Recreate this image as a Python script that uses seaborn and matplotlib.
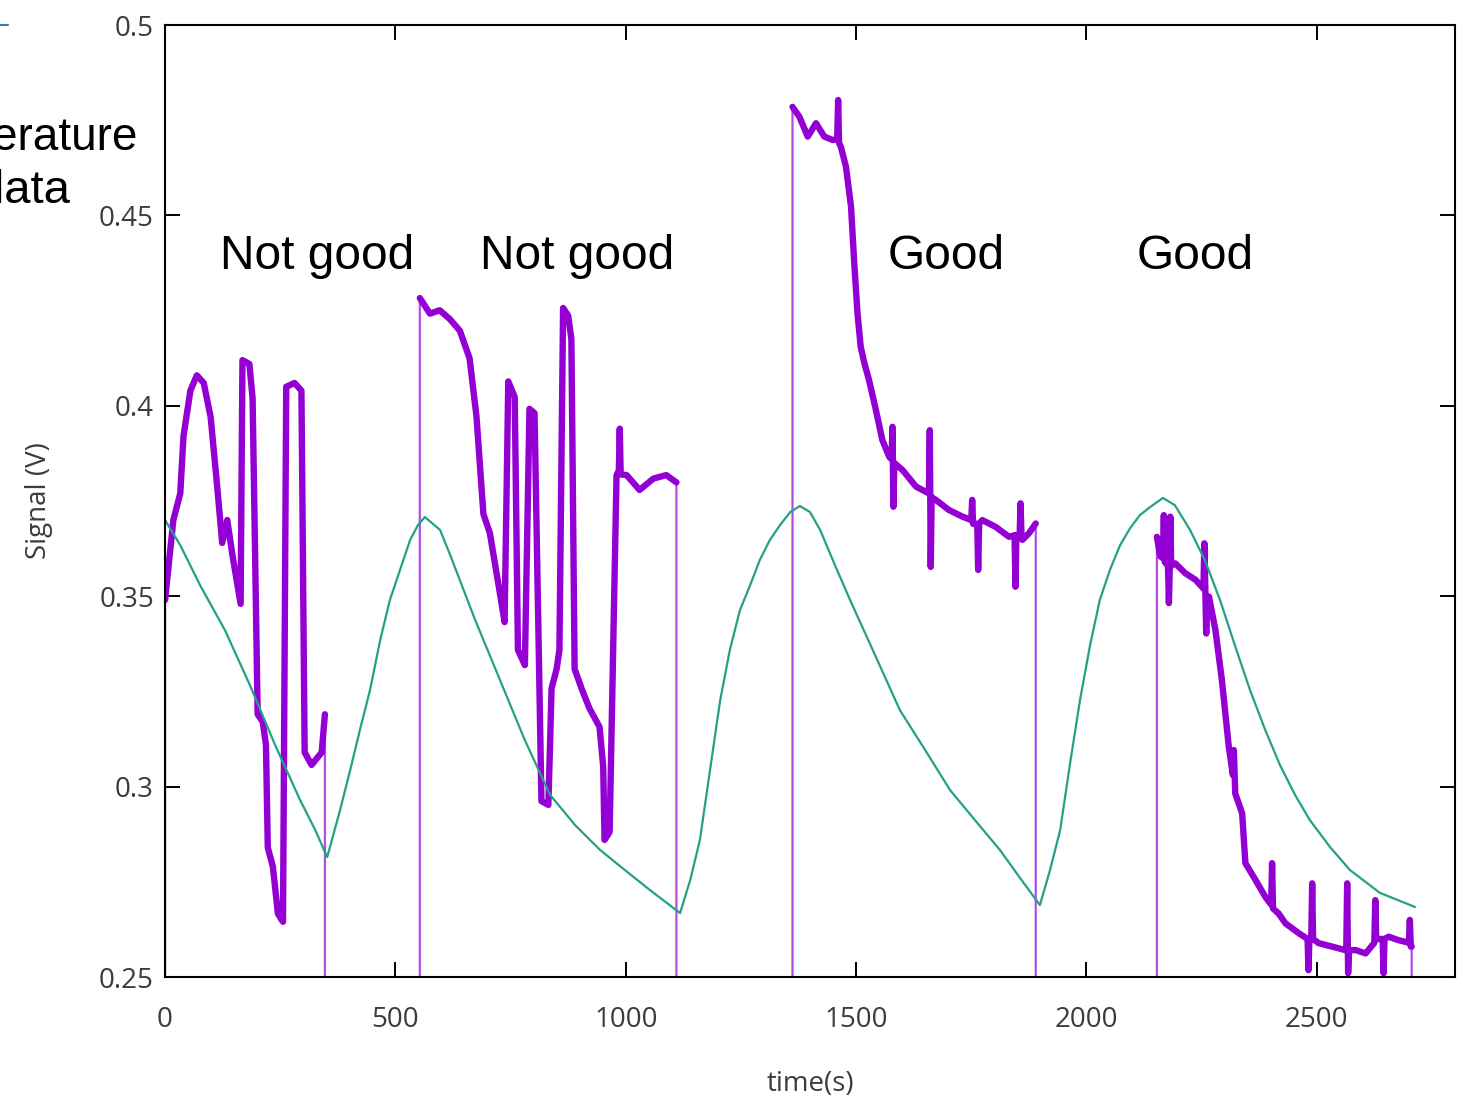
import matplotlib.pyplot as plt
import pandas as pd
import seaborn as sns
from matplotlib.lines import Line2D
from matplotlib.ticker import FormatStrFormatter

PURPLE = "#9400d3"
TEAL = "#25a088"
TICK_GREY = "#3c3c3c"

# level the logger reads between runs (off the bottom of the plot)
OFF_LEVEL = 0.0

# sensor signal, one list pair per run (time in s, signal in V)
run1_t = [0, 18, 33, 40, 55, 69, 84, 99, 113, 124, 135, 146, 164, 168, 183, 190,
          201, 212, 219, 223, 234, 245, 256, 263, 281, 296, 303, 318, 340, 347]
run1_v = [0.349, 0.370, 0.377, 0.392, 0.404, 0.408, 0.406, 0.397, 0.379, 0.364, 0.370,
          0.361, 0.348, 0.412, 0.411, 0.402, 0.319, 0.317, 0.311, 0.284, 0.279, 0.2666,
          0.2645, 0.405, 0.406, 0.404, 0.309, 0.3057, 0.309, 0.319]

run2_t = [553, 575, 596, 618, 640, 661, 676, 691, 705, 726, 737, 745, 759, 766, 781,
          791, 802, 817, 832, 839, 850, 856, 864, 875, 882, 889, 904, 921, 943, 951,
          954, 965, 980, 985, 987, 989, 1002, 1030, 1060, 1088, 1110]
run2_v = [0.4283, 0.4242, 0.4251, 0.4228, 0.4197, 0.4125, 0.3972, 0.3716, 0.3666, 0.3514,
          0.3432, 0.4064, 0.4023, 0.3359, 0.3319, 0.3992, 0.3981, 0.2962, 0.2952, 0.3258,
          0.3309, 0.3359, 0.4257, 0.4237, 0.4175, 0.3309, 0.3258, 0.3206, 0.3157, 0.3054,
          0.286, 0.2881, 0.3818, 0.383, 0.394, 0.382, 0.3818, 0.3779, 0.3809, 0.3818, 0.3799]

run3_t = [1362, 1377, 1395, 1413, 1431, 1449, 1459, 1461, 1463, 1467, 1478, 1489, 1496,
          1503, 1510, 1518, 1528, 1543, 1557, 1572, 1577, 1579, 1581, 1583, 1601, 1630,
          1658, 1660, 1662, 1664, 1673, 1702, 1731, 1750, 1752, 1754, 1763, 1765, 1767,
          1774, 1803, 1832, 1844, 1846, 1848, 1855, 1857, 1859, 1861, 1875, 1890]
run3_v = [0.4785, 0.4759, 0.4707, 0.4742, 0.4707, 0.4698, 0.470, 0.4803, 0.469, 0.468,
          0.4628, 0.4523, 0.4375, 0.4244, 0.4155, 0.4112, 0.4068, 0.3989, 0.391, 0.3866,
          0.386, 0.3945, 0.3735, 0.385, 0.3831, 0.3788, 0.377, 0.3936, 0.3577, 0.376,
          0.3753, 0.3726, 0.3709, 0.370, 0.3753, 0.369, 0.369, 0.3569, 0.369, 0.370,
          0.3682, 0.3656, 0.366, 0.3525, 0.366, 0.366, 0.3744, 0.366, 0.3648, 0.3665, 0.3691]

run4_t = [2153, 2158, 2161, 2166, 2168, 2170, 2177, 2179, 2181, 2182, 2184, 2193, 2215,
          2237, 2254, 2256, 2258, 2260, 2262, 2266, 2280, 2294, 2309, 2318, 2320, 2323,
          2338, 2345, 2367, 2388, 2401, 2403, 2405, 2417, 2432, 2461, 2480, 2482, 2484,
          2488, 2490, 2492, 2504, 2533, 2564, 2566, 2568, 2570, 2584, 2606, 2625, 2627,
          2629, 2643, 2645, 2647, 2656, 2677, 2700, 2702, 2704, 2706]
run4_v = [0.3656, 0.362, 0.3604, 0.360, 0.3713, 0.359, 0.358, 0.3482, 0.358, 0.3709,
          0.358, 0.3586, 0.356, 0.3543, 0.352, 0.3639, 0.352, 0.3402, 0.350, 0.3499,
          0.3411, 0.328, 0.3105, 0.303, 0.3096, 0.2982, 0.293, 0.2799, 0.2755, 0.2711,
          0.269, 0.2799, 0.268, 0.2667, 0.2641, 0.2615, 0.260, 0.2518, 0.260, 0.260,
          0.2746, 0.260, 0.2589, 0.258, 0.257, 0.2746, 0.251, 0.257, 0.2571, 0.2562,
          0.259, 0.2702, 0.260, 0.260, 0.251, 0.260, 0.2606, 0.2597, 0.259, 0.265, 0.258,
          0.258]

# temperature-like reference curve
temp_t = [0, 33, 76, 130, 184, 239, 293, 326, 352, 380, 402, 423, 445, 467, 488, 510,
          532, 549, 564, 597, 619, 673, 727, 781, 836, 890, 944, 998, 1053, 1118, 1140,
          1161, 1183, 1205, 1226, 1248, 1270, 1291, 1313, 1335, 1357, 1378, 1400, 1422,
          1454, 1487, 1541, 1595, 1650, 1704, 1758, 1812, 1856, 1899, 1921, 1943, 1964,
          1986, 2008, 2029, 2051, 2073, 2095, 2116, 2138, 2166, 2192, 2225, 2257, 2290,
          2322, 2355, 2388, 2420, 2453, 2485, 2529, 2572, 2637, 2713]
temp_v = [0.3700, 0.3634, 0.3529, 0.3411, 0.3267, 0.3109, 0.2965, 0.2886, 0.2815, 0.2939,
          0.3044, 0.3149, 0.3254, 0.3385, 0.3490, 0.3569, 0.3648, 0.3687, 0.3708, 0.3674,
          0.3608, 0.3438, 0.3280, 0.3122, 0.2978, 0.2899, 0.2834, 0.2781, 0.2728, 0.2668,
          0.2755, 0.2860, 0.3044, 0.3227, 0.3359, 0.3464, 0.3529, 0.3595, 0.3648, 0.3687,
          0.3721, 0.3737, 0.3721, 0.3674, 0.3582, 0.3490, 0.3346, 0.3201, 0.3096, 0.2991,
          0.2912, 0.2834, 0.2760, 0.2689, 0.2781, 0.2886, 0.3057, 0.3227, 0.3372, 0.3490,
          0.3569, 0.3634, 0.3679, 0.3713, 0.3734, 0.3758, 0.3739, 0.3674, 0.3595, 0.3490,
          0.3372, 0.3254, 0.3149, 0.3057, 0.2978, 0.2912, 0.2841, 0.2781, 0.2721, 0.2684]

x_ticks = [0, 500, 1000, 1500, 2000, 2500]
y_ticks = [0.25, 0.30, 0.35, 0.40, 0.45, 0.50]

labels = ["Not good", "Not good", "Good", "Good"]
label_t = [330, 895, 1695, 2237]


def build_signal() -> pd.DataFrame:
    runs = [(run1_t, run1_v), (run2_t, run2_v), (run3_t, run3_v), (run4_t, run4_v)]
    parts = []
    for i, (t, v) in enumerate(runs):
        parts.append(pd.DataFrame({"time": t, "signal": v, "run": i}))
    return pd.concat(parts, ignore_index=True)


def main() -> None:
    sns.set_style("ticks")
    plt.rcParams["font.family"] = ["Open Sans", "DejaVu Sans"]

    signal = build_signal()
    # full trace incl. the drops to the off level between runs
    trace = []
    for _, grp in signal.groupby("run"):
        t0, t1 = grp["time"].iloc[0], grp["time"].iloc[-1]
        trace.append(pd.DataFrame({"time": [t0], "signal": [OFF_LEVEL]}))
        trace.append(grp[["time", "signal"]])
        trace.append(pd.DataFrame({"time": [t1], "signal": [OFF_LEVEL]}))
    trace = pd.concat(trace, ignore_index=True)
    temp = pd.DataFrame({"time": temp_t, "temp": temp_v})

    fig = plt.figure(figsize=(14.62, 11.02), dpi=100)
    ax = fig.add_axes([0.1129, 0.1134, 0.8823, 0.8639])

    sns.lineplot(data=trace, x="time", y="signal", sort=False, estimator=None,
                 color=PURPLE, lw=1.6, alpha=0.7, ax=ax)
    sns.lineplot(data=signal, x="time", y="signal", units="run", sort=False, estimator=None,
                 color=PURPLE, lw=4.6, solid_joinstyle="round", ax=ax)
    sns.lineplot(data=temp, x="time", y="temp", sort=False, estimator=None,
                 color=TEAL, lw=1.6, ax=ax)

    ax.set_xlim(0, 2800)
    ax.set_ylim(0.25, 0.5)
    ax.set_xticks(x_ticks)
    ax.set_yticks(y_ticks)
    ax.yaxis.set_major_formatter(FormatStrFormatter("%g"))
    ax.tick_params(direction="in", length=11, width=1.4, top=True, right=True,
                   labelsize=20, colors="black", labelcolor=TICK_GREY)
    ax.tick_params(axis="x", pad=21)
    ax.tick_params(axis="y", pad=8)
    for sp in ax.spines.values():
        sp.set_visible(True)
        sp.set_linewidth(1.5)
        sp.set_color("black")

    ax.set_xlabel("time(s)", fontsize=20, color=TICK_GREY, labelpad=26)
    ax.set_ylabel("Signal (V)", fontsize=20, color=TICK_GREY, labelpad=33)

    for text, t in zip(labels, label_t):
        ax.text(t, 0.4392, text, ha="center", va="center", fontsize=34.5,
                family="Liberation Sans", color="black")

    # slide title clipped at the left edge of the screenshot
    fig.text(137 / 1462, 0.8639, "Temperature", ha="right", va="baseline",
             fontsize=33, family="Liberation Sans", color="black")
    fig.text(70 / 1462, 0.8158, "data", ha="right", va="baseline",
             fontsize=34, family="Liberation Sans", color="black")
    fig.add_artist(Line2D([0.0, 8 / 1462], [1 - 25 / 1102, 1 - 25 / 1102],
                          color="#4472c4", lw=1.5, transform=fig.transFigure))

    fig.savefig("out.png", dpi=100)
    plt.close(fig)


if __name__ == "__main__":
    main()
